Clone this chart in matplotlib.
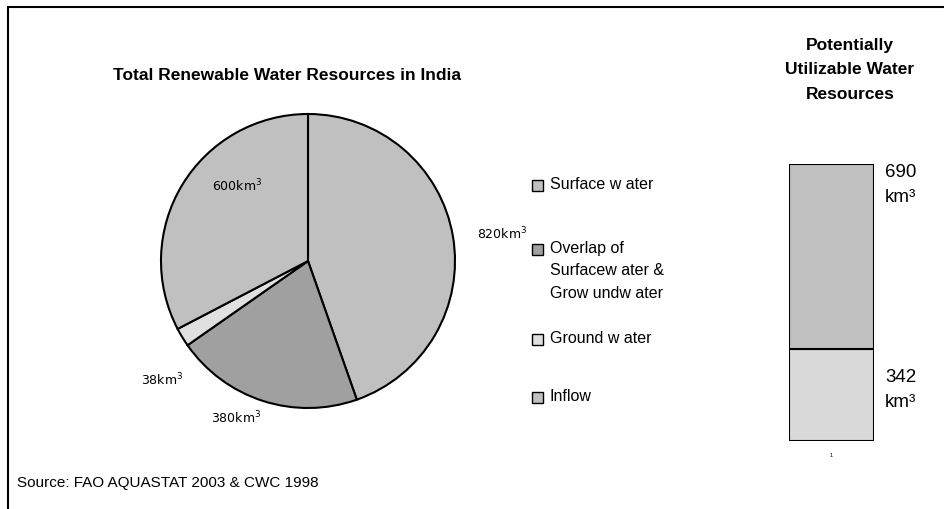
import matplotlib.pyplot as plt
from matplotlib.patches import Rectangle

# pie data (clockwise from 12 o'clock)
pie_names = ['Surface w ater', 'Overlap of\nSurfacew ater &\nGrow undw ater', 'Ground w ater', 'Inflow']
pie_values = [820, 380, 38, 600]
pie_labels = ['820km$^3$', '380km$^3$', '38km$^3$', '600km$^3$']
pie_colors = ['#c0c0c0', '#a0a0a0', '#e0e0e0', '#c0c0c0']

# stacked bar data
bar_values = [342, 690]
bar_labels = ['342\nkm³', '690\nkm³']
bar_colors = ['#d9d9d9', '#c0c0c0']

W, H = 945, 510
fig = plt.figure(figsize=(W / 100, H / 100), dpi=100)
plt.rcParams['font.family'] = ['Liberation Sans', 'DejaVu Sans']

def box(x0, y0, w, h):
    # pixel box (top-left origin) -> figure fraction
    return [x0 / W, 1 - (y0 + h) / H, w / W, h / H]

# outer frame
fig.patches.append(Rectangle((8 / W, -0.1), 1.2, 1 - 8 / H + 0.1, transform=fig.transFigure,
                             fill=False, lw=1.5, ec='black'))

# pie
ax = fig.add_axes(box(158, 112, 300, 300))
wedges, _ = ax.pie(pie_values, colors=pie_colors, startangle=90, counterclock=False,
                   wedgeprops=dict(edgecolor='black', linewidth=1.5))
ax.set_xlim(-150 / 147, 150 / 147)
ax.set_ylim(-150 / 147, 150 / 147)
ax.set_aspect('equal')
lab_pos = [(1.15, 0.19, 'left'), (-0.49, -1.06, 'center'), (-0.99, -0.80, 'center'), (-0.48, 0.52, 'center')]
for (x, y, ha), t in zip(lab_pos, pie_labels):
    ax.text(x, y, t, ha=ha, va='center', fontsize=9, family='DejaVu Sans')

fig.text(287 / W, 1 - 76 / H, 'Total Renewable Water Resources in India', ha='center', va='center',
         fontsize=12.5, fontweight='bold')

# legend, drawn by hand to keep the uneven spacing
leg_y = [187, 251, 341, 399]
for name, c, y in zip(pie_names, pie_colors, leg_y):
    fig.patches.append(Rectangle((532 / W, 1 - (y + 5) / H), 11 / W, 11 / H, transform=fig.transFigure,
                                 fc=c, ec='black', lw=1))
    fig.text(550 / W, 1 - (y - 10) / H, name, ha='left', va='top', fontsize=11.5, linespacing=1.62)

# stacked bar
bx = fig.add_axes(box(789, 165, 85, 277))
lab_drop = [40, 20]   # label centre, pixels below the segment top
px_per_unit = 277 / sum(bar_values)
bottom = 0
for v, c, t, d in zip(bar_values, bar_colors, bar_labels, lab_drop):
    bx.bar(0, v, width=1, bottom=bottom, color=c, edgecolor='black', linewidth=1.5)
    bx.text(0.63, bottom + v - d / px_per_unit, t, ha='left', va='center', fontsize=13.5, linespacing=1.6)
    bottom += v
bx.set_xlim(-0.5, 0.5)
bx.set_ylim(0, bottom)
bx.set_xticks([0])
bx.set_xticklabels(['1'], fontsize=4)
bx.tick_params(length=0, pad=8)
bx.set_yticks([])
for s in bx.spines.values():
    s.set_visible(False)

fig.text(850 / W, 1 - 70 / H, 'Potentially\nUtilizable Water\nResources', ha='center', va='center',
         fontsize=12.5, fontweight='bold', linespacing=1.77)

fig.text(17 / W, 1 - 483 / H, 'Source: FAO AQUASTAT 2003 & CWC 1998', ha='left', va='center', fontsize=11)

fig.savefig('out.png', dpi=100)
